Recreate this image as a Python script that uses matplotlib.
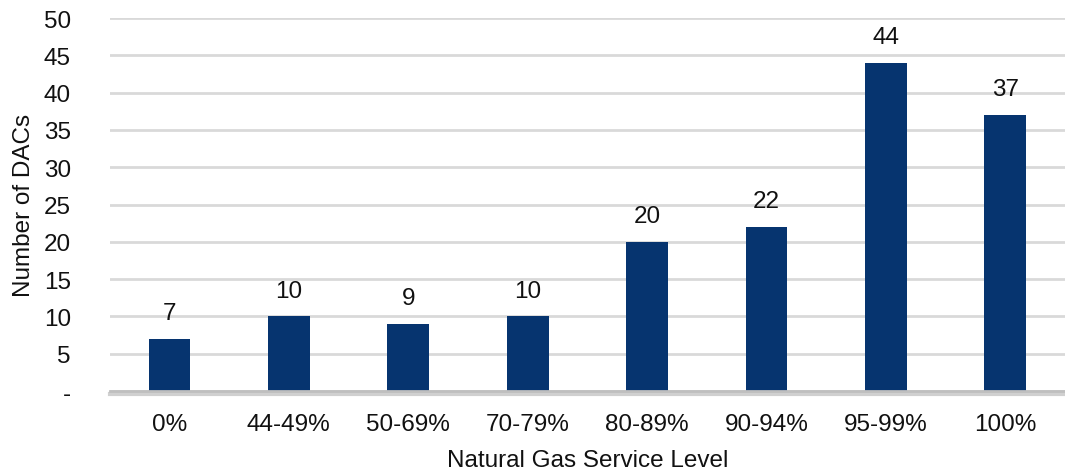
import matplotlib.pyplot as plt
import numpy as np

# ---- Data ----
levels = ["0%", "44-49%", "50-69%", "70-79%", "80-89%", "90-94%", "95-99%", "100%"]
counts = [7, 10, 9, 10, 20, 22, 44, 37]
yticks = [0, 5, 10, 15, 20, 25, 30, 35, 40, 45, 50]
ytick_labels = ["-", "5", "10", "15", "20", "25", "30", "35", "40", "45", "50"]

plt.rcParams['font.family'] = ['Liberation Sans', 'DejaVu Sans']
FS = 17.5

fig = plt.figure(figsize=(10.65, 4.77), dpi=100)
ax = fig.add_axes([0.103, 0.178, 0.897, 0.782])

x = np.arange(len(levels))
ax.bar(x, counts, width=0.35, color="#06346f", zorder=3)

for xi, c in zip(x, counts):
    ax.text(xi, c + 2.0, str(c), ha="center", va="bottom", fontsize=FS, color="#111111")

ax.set_xlim(-0.5, len(levels) - 0.5)
ax.set_ylim(0, 50)
ax.set_yticks(yticks)
ax.set_yticklabels(ytick_labels, fontsize=FS)
ax.set_xticks(x)
ax.set_xticklabels(levels, fontsize=FS)
ax.tick_params(axis="both", length=0, colors="#111111")
ax.tick_params(axis="x", pad=16)
ax.tick_params(axis="y", pad=28)

ax.yaxis.grid(True, color="#d9d9d9", linewidth=2, zorder=0)
for s in ["top", "right", "left"]:
    ax.spines[s].set_visible(False)
ax.spines["bottom"].set_color("#bfbfbf")
ax.spines["bottom"].set_linewidth(2)
ax.spines["bottom"].set_zorder(4)
# soft shadow under the axis line
ax.axhline(-0.35, color="#d0d0d0", linewidth=3, clip_on=False, zorder=2)

ax.set_xlabel("Natural Gas Service Level", fontsize=FS, labelpad=10, color="#111111")
ax.set_ylabel("Number of DACs", fontsize=FS, labelpad=6, color="#111111")

fig.savefig("out.png", dpi=100)
